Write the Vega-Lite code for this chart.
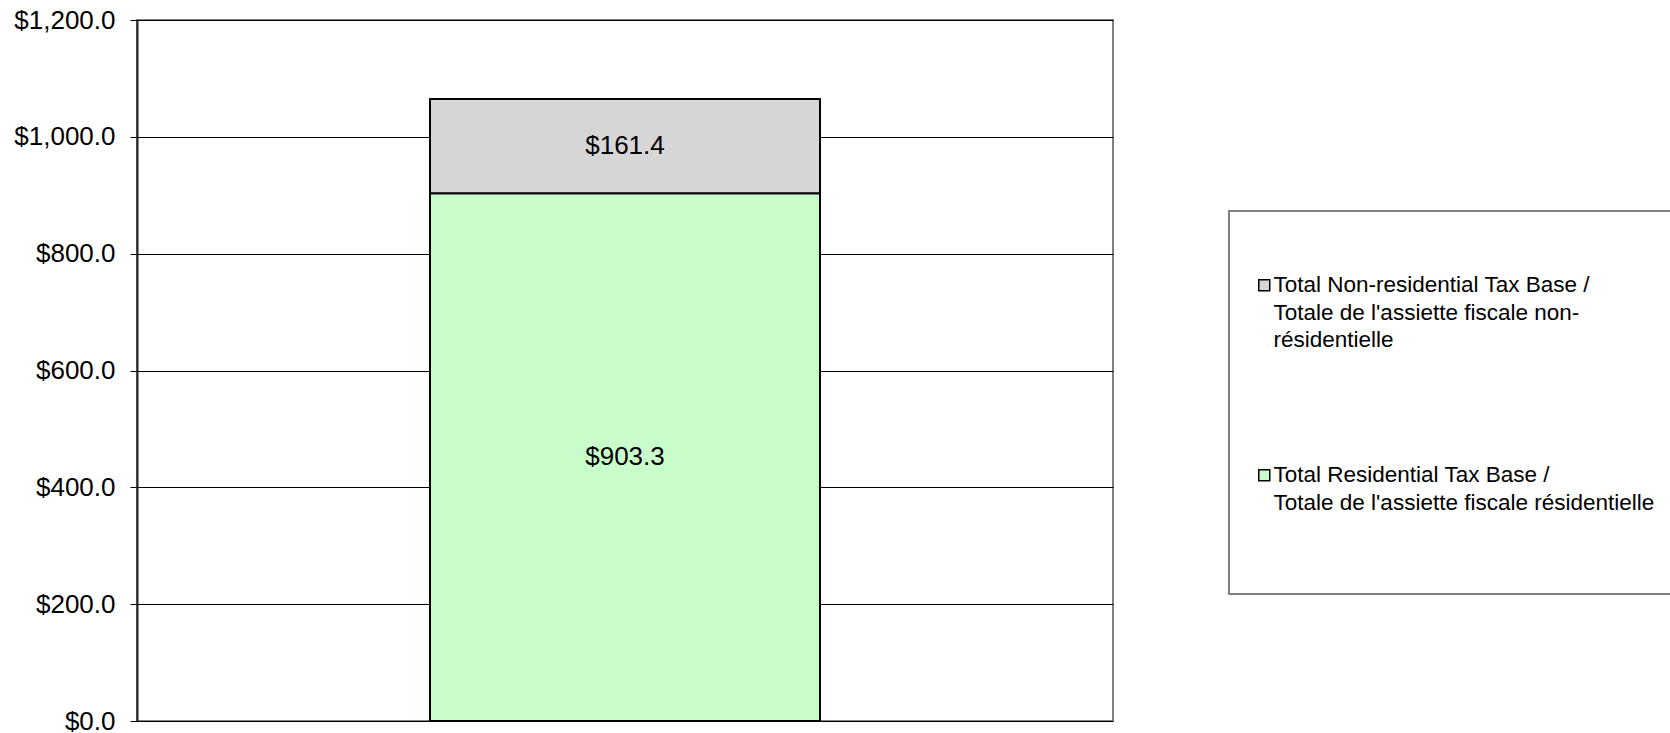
{
  "$schema": "https://vega.github.io/schema/vega-lite/v6.json",
  "width": 976,
  "height": 701,
  "padding": {"left": 13, "top": 7, "right": 0, "bottom": 0},
  "autosize": {"type": "pad"},
  "background": "white",
  "config": {
    "font": "Liberation Sans",
    "view": {"stroke": "#808080", "strokeWidth": 2}
  },
  "data": {
    "values": [
      {"cat": "2011", "type": "Total Residential Tax Base / Totale de l'assiette fiscale résidentielle", "ord": 1, "value": 903.3},
      {"cat": "2011", "type": "Total Non-residential Tax Base / Totale de l'assiette fiscale non-résidentielle", "ord": 2, "value": 161.4}
    ]
  },
  "transform": [
    {"stack": "value", "groupby": ["cat"], "sort": [{"field": "ord", "order": "ascending"}], "as": ["v0", "v1"]},
    {"calculate": "(datum.v0 + datum.v1) / 2", "as": "mid"}
  ],
  "encoding": {
    "x": {"field": "cat", "type": "nominal", "axis": null}
  },
  "layer": [
    {
      "mark": {"type": "bar", "size": 390, "stroke": "black", "strokeWidth": 2},
      "encoding": {
        "y": {
          "field": "v0", "type": "quantitative",
          "scale": {"domain": [0, 1200], "nice": false},
          "axis": {
            "title": null, "values": [0, 200, 400, 600, 800, 1000, 1200],
            "format": "$,.1f", "labelFontSize": 26, "labelColor": "black",
            "labelPadding": 15, "tickSize": 7, "tickColor": "black", "tickWidth": 1,
            "domainColor": "#202020", "domainWidth": 2,
            "gridColor": "black", "gridWidth": 1, "gridOpacity": 1
          }
        },
        "y2": {"field": "v1"},
        "color": {
          "field": "type", "type": "nominal",
          "scale": {
            "domain": ["Total Non-residential Tax Base / Totale de l'assiette fiscale non-résidentielle", "Total Residential Tax Base / Totale de l'assiette fiscale résidentielle"],
            "range": ["#d6d6d6", "#c8fccb"]
          },
          "legend": {
            "orient": "none", "legendX": 1092, "legendY": 191,
            "title": " ", "titleFontSize": 23, "titlePadding": 16,
            "padding": 24,
            "strokeColor": "#808080", "fillColor": "white",
            "labelFontSize": 22.5, "labelLimit": 0, "labelColor": "black", "labelOffset": -2,
            "symbolType": "square", "symbolSize": 121, "symbolStrokeColor": "black", "symbolStrokeWidth": 1.5,
            "rowPadding": 112,
            "encode": {
              "legend": {"update": {"strokeWidth": {"value": 2}}},
              "labels": {"update": {"lineHeight": {"value": 27.5}}}
            },
            "labelExpr": "indexof(datum.label, 'Non-') >= 0 ? ['Total Non-residential Tax Base /', \"Totale de l'assiette fiscale non-\", 'résidentielle'] : ['Total Residential Tax Base /', \"Totale de l'assiette fiscale résidentielle\", '', '']"
          }
        }
      }
    },
    {
      "mark": {"type": "text", "fontSize": 26, "color": "black"},
      "encoding": {
        "y": {"field": "mid", "type": "quantitative"},
        "text": {"field": "value", "type": "quantitative", "format": "$,.1f"}
      }
    }
  ]
}
